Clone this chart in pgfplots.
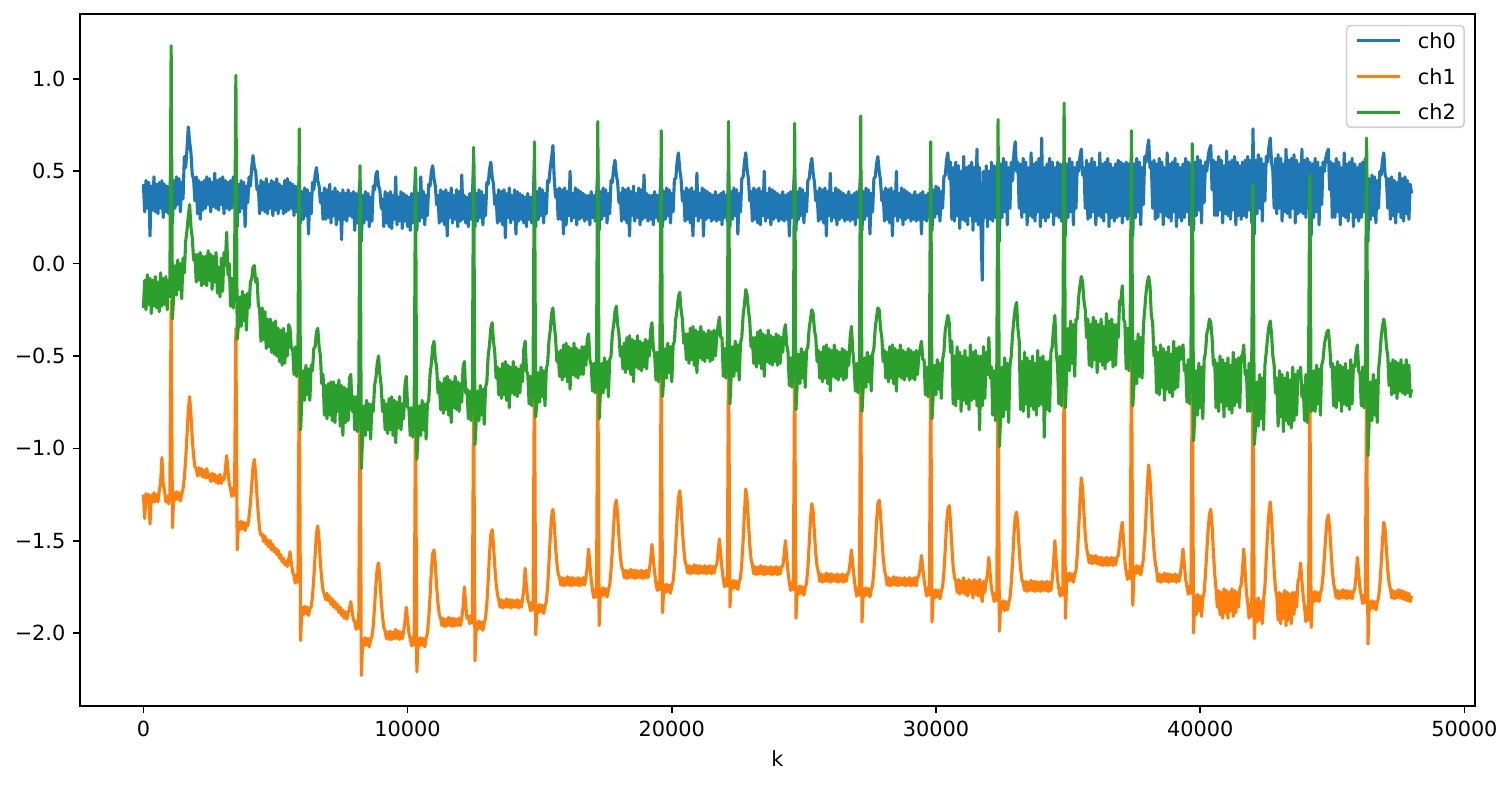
\documentclass[border=0pt]{standalone}
\usepackage{fontspec}
\setmainfont{DejaVu Sans}
\usepackage{pgfplots}
\usepackage{pgfplotstable}
\pgfplotsset{compat=1.18}
\definecolor{c0}{HTML}{1F77B4}
\definecolor{c1}{HTML}{FF7F0E}
\definecolor{c2}{HTML}{2CA02C}
% k = sample index; a = ch0, b = ch1, c = ch2
\pgfplotstableread{
k a b c
0 0.43 -1.25 -0.24
50 0.28 -1.38 -0.09
100 0.45 -1.245 -0.25
150 0.30 -1.285 -0.06
200 0.44 -1.25 -0.22
250 0.15 -1.41 -0.08
300 0.42 -1.255 -0.27
350 0.29 -1.29 -0.09
400 0.47 -1.24 -0.23
450 0.28 -1.29 -0.07
500 0.43 -1.25 -0.24
550 0.27 -1.29 -0.10
600 0.44 -1.23 -0.26
650 0.30 -1.19 -0.05
700 0.45 -1.05 -0.23
750 0.25 -1.19 -0.08
800 0.43 -1.23 -0.22
850 0.28 -1.29 -0.07
900 0.42 -1.26 -0.25
950 0.27 -1.30 -0.09
1000 0.38 -1.27 -0.18
1050 0.55 -0.20 1.18
1100 0.22 -1.43 -0.30
1150 0.45 -1.24 -0.16
1200 0.30 -1.28 -0.01
1250 0.47 -1.235 -0.17
1300 0.32 -1.275 0.02
1350 0.46 -1.24 -0.14
1400 0.28 -1.285 0.00
1450 0.44 -1.245 -0.19
1500 0.35 -1.22 0.03
1550 0.58 -1.16 -0.05
1600 0.52 -1.06 0.12
1650 0.62 -0.93 0.18
1700 0.74 -0.79 0.26
1750 0.66 -0.72 0.32
1800 0.60 -0.82 0.20
1850 0.48 -0.95 0.14
1900 0.46 -1.04 0.02
1950 0.34 -1.10 0.05
2000 0.47 -1.11 -0.10
2050 0.27 -1.15 0.05
2100 0.45 -1.105 -0.09
2150 0.24 -1.145 0.06
2200 0.44 -1.11 -0.12
2250 0.29 -1.155 0.04
2300 0.45 -1.12 -0.11
2350 0.30 -1.16 0.04
2400 0.47 -1.11 -0.12
2450 0.32 -1.16 0.07
2500 0.46 -1.14 -0.09
2550 0.28 -1.18 0.05
2600 0.44 -1.135 -0.14
2650 0.31 -1.175 0.04
2700 0.49 -1.14 -0.10
2750 0.30 -1.185 0.06
2800 0.45 -1.15 -0.16
2850 0.29 -1.19 -0.02
2900 0.46 -1.14 -0.18
2950 0.32 -1.19 0.03
3000 0.47 -1.16 -0.15
3050 0.27 -1.17 0.06
3100 0.45 -1.12 -0.01
3150 0.30 -1.04 0.17
3200 0.44 -1.12 -0.06
3250 0.29 -1.19 0.00
3300 0.45 -1.22 -0.23
3350 0.30 -1.26 -0.08
3400 0.47 -1.215 -0.24
3450 0.32 -1.255 -0.05
3500 0.50 -0.35 1.02
3550 0.20 -1.55 -0.41
3600 0.43 -1.40 -0.33
3650 0.28 -1.44 -0.18
3700 0.45 -1.395 -0.34
3750 0.30 -1.435 -0.15
3800 0.44 -1.40 -0.31
3850 0.20 -1.445 -0.17
3900 0.42 -1.405 -0.36
3950 0.33 -1.42 -0.16
4000 0.47 -1.37 -0.24
4050 0.42 -1.30 -0.10
4100 0.52 -1.20 -0.08
4150 0.585 -1.10 -0.02
4200 0.52 -1.06 -0.01
4250 0.50 -1.14 -0.10
4300 0.40 -1.26 -0.08
4350 0.42 -1.36 -0.22
4400 0.27 -1.44 -0.25
4450 0.45 -1.47 -0.42
4500 0.29 -1.465 -0.24
4550 0.44 -1.505 -0.41
4600 0.28 -1.475 -0.26
4650 0.46 -1.52 -0.46
4700 0.27 -1.495 -0.30
4750 0.43 -1.535 -0.45
4800 0.30 -1.50 -0.30
4850 0.45 -1.55 -0.48
4900 0.26 -1.52 -0.32
4950 0.44 -1.56 -0.49
5000 0.29 -1.54 -0.31
5050 0.46 -1.575 -0.50
5100 0.27 -1.55 -0.35
5150 0.43 -1.595 -0.53
5200 0.30 -1.575 -0.36
5250 0.42 -1.615 -0.55
5300 0.27 -1.595 -0.35
5350 0.45 -1.63 -0.54
5400 0.28 -1.61 -0.38
5450 0.46 -1.64 -0.50
5500 0.29 -1.60 -0.33
5550 0.44 -1.56 -0.35
5600 0.30 -1.62 -0.46
5650 0.43 -1.67 -0.46
5700 0.26 -1.69 -0.60
5750 0.42 -1.73 -0.45
5800 0.28 -1.685 -0.61
5850 0.40 -1.725 -0.48
5900 0.45 -0.55 0.73
5950 0.22 -2.04 -0.90
6000 0.39 -1.86 -0.73
6050 0.24 -1.90 -0.58
6100 0.41 -1.855 -0.74
6150 0.26 -1.895 -0.55
6200 0.40 -1.86 -0.71
6250 0.16 -1.905 -0.57
6300 0.38 -1.865 -0.74
6350 0.27 -1.86 -0.55
6400 0.44 -1.80 -0.58
6450 0.40 -1.70 -0.46
6500 0.48 -1.58 -0.45
6550 0.52 -1.46 -0.37
6600 0.45 -1.42 -0.35
6650 0.42 -1.50 -0.45
6700 0.33 -1.62 -0.50
6750 0.38 -1.71 -0.65
6800 0.24 -1.77 -0.60
6850 0.41 -1.79 -0.82
6900 0.24 -1.82 -0.66
6950 0.40 -1.785 -0.84
7000 0.25 -1.825 -0.65
7050 0.43 -1.80 -0.82
7100 0.22 -1.845 -0.64
7150 0.39 -1.815 -0.85
7200 0.26 -1.86 -0.64
7250 0.41 -1.83 -0.86
7300 0.21 -1.87 -0.66
7350 0.39 -1.845 -0.80
7400 0.24 -1.89 -0.63
7450 0.38 -1.86 -0.88
7500 0.13 -1.905 -0.66
7550 0.40 -1.875 -0.93
7600 0.24 -1.92 -0.67
7650 0.38 -1.885 -0.86
7700 0.23 -1.925 -0.68
7750 0.40 -1.89 -0.85
7800 0.26 -1.87 -0.62
7850 0.38 -1.83 -0.60
7900 0.25 -1.88 -0.80
7950 0.39 -1.93 -0.72
8000 0.18 -1.94 -0.90
8050 0.38 -1.98 -0.72
8100 0.22 -1.935 -0.91
8150 0.36 -1.975 -0.74
8200 0.45 -0.70 0.53
8250 0.12 -2.23 -1.11
8300 0.37 -2.03 -0.92
8350 0.22 -2.07 -0.77
8400 0.39 -2.025 -0.93
8450 0.24 -2.065 -0.74
8500 0.38 -2.03 -0.90
8550 0.20 -2.075 -0.76
8600 0.36 -2.035 -0.95
8650 0.23 -2.02 -0.76
8700 0.42 -1.96 -0.80
8750 0.40 -1.86 -0.66
8800 0.48 -1.74 -0.62
8850 0.50 -1.65 -0.54
8900 0.42 -1.62 -0.50
8950 0.40 -1.70 -0.60
9000 0.30 -1.82 -0.66
9050 0.35 -1.91 -0.80
9100 0.20 -1.97 -0.74
9150 0.39 -1.99 -0.90
9200 0.22 -2.03 -0.76
9250 0.38 -1.995 -0.92
9300 0.20 -2.035 -0.73
9350 0.39 -1.99 -0.90
9400 0.19 -2.035 -0.72
9450 0.37 -1.995 -0.93
9500 0.24 -2.03 -0.74
9550 0.47 -1.98 -0.97
9600 0.21 -2.03 -0.75
9650 0.36 -1.99 -0.89
9700 0.23 -2.035 -0.72
9750 0.39 -1.995 -0.90
9800 0.19 -2.03 -0.76
9850 0.38 -1.99 -0.84
9900 0.23 -1.94 -0.66
9950 0.37 -1.86 -0.61
10000 0.20 -1.93 -0.78
10050 0.36 -2.00 -0.78
10100 0.18 -2.03 -0.93
10150 0.38 -2.07 -0.78
10200 0.22 -2.025 -0.94
10250 0.35 -2.065 -0.77
10300 0.50 -0.75 0.52
10350 0.18 -2.21 -1.06
10400 0.38 -2.03 -0.92
10450 0.23 -2.07 -0.77
10500 0.47 -2.025 -0.93
10550 0.25 -2.065 -0.74
10600 0.39 -2.03 -0.90
10650 0.21 -2.075 -0.76
10700 0.37 -2.03 -0.95
10750 0.26 -2.00 -0.76
10800 0.43 -1.92 -0.74
10850 0.42 -1.80 -0.60
10900 0.50 -1.66 -0.54
10950 0.53 -1.57 -0.45
11000 0.46 -1.55 -0.42
11050 0.42 -1.63 -0.52
11100 0.32 -1.75 -0.56
11150 0.37 -1.84 -0.70
11200 0.22 -1.90 -0.64
11250 0.40 -1.92 -0.79
11300 0.23 -1.96 -0.65
11350 0.39 -1.92 -0.81
11400 0.21 -1.965 -0.62
11450 0.40 -1.925 -0.79
11500 0.15 -1.96 -0.61
11550 0.38 -1.915 -0.82
11600 0.25 -1.96 -0.63
11650 0.41 -1.92 -0.86
11700 0.22 -1.965 -0.64
11750 0.37 -1.92 -0.78
11800 0.24 -1.96 -0.61
11850 0.40 -1.925 -0.79
11900 0.20 -1.96 -0.64
11950 0.39 -1.92 -0.80
12000 0.23 -1.96 -0.65
12050 0.48 -1.92 -0.75
12100 0.24 -1.86 -0.56
12150 0.37 -1.75 -0.53
12200 0.22 -1.85 -0.70
12250 0.36 -1.92 -0.68
12300 0.20 -1.91 -0.84
12350 0.38 -1.95 -0.69
12400 0.24 -1.905 -0.85
12450 0.36 -1.945 -0.68
12500 0.55 -0.65 0.63
12550 0.20 -2.15 -0.98
12600 0.38 -1.94 -0.84
12650 0.23 -1.98 -0.69
12700 0.40 -1.935 -0.85
12750 0.25 -1.975 -0.66
12800 0.39 -1.94 -0.82
12850 0.21 -1.985 -0.68
12900 0.37 -1.945 -0.87
12950 0.26 -1.92 -0.67
13000 0.44 -1.84 -0.64
13050 0.43 -1.72 -0.50
13100 0.51 -1.57 -0.44
13150 0.55 -1.47 -0.35
13200 0.47 -1.44 -0.32
13250 0.43 -1.52 -0.42
13300 0.32 -1.64 -0.48
13350 0.37 -1.73 -0.62
13400 0.22 -1.79 -0.56
13450 0.40 -1.82 -0.71
13500 0.23 -1.86 -0.57
13550 0.39 -1.82 -0.73
13600 0.21 -1.865 -0.54
13650 0.40 -1.825 -0.71
13700 0.14 -1.86 -0.53
13750 0.38 -1.815 -0.74
13800 0.25 -1.86 -0.55
13850 0.41 -1.82 -0.78
13900 0.22 -1.865 -0.56
13950 0.37 -1.82 -0.70
14000 0.24 -1.86 -0.53
14050 0.40 -1.825 -0.71
14100 0.16 -1.86 -0.56
14150 0.39 -1.82 -0.72
14200 0.23 -1.865 -0.57
14250 0.38 -1.825 -0.70
14300 0.24 -1.86 -0.55
14350 0.37 -1.82 -0.64
14400 0.22 -1.76 -0.46
14450 0.36 -1.65 -0.42
14500 0.20 -1.75 -0.58
14550 0.38 -1.82 -0.60
14600 0.24 -1.84 -0.76
14650 0.36 -1.88 -0.61
14700 0.22 -1.835 -0.77
14750 0.35 -1.875 -0.60
14800 0.52 -0.55 0.66
14850 0.20 -2.01 -0.83
14900 0.39 -1.85 -0.74
14950 0.24 -1.89 -0.59
15000 0.41 -1.845 -0.75
15050 0.26 -1.885 -0.56
15100 0.40 -1.85 -0.72
15150 0.22 -1.895 -0.58
15200 0.38 -1.855 -0.77
15250 0.27 -1.83 -0.57
15300 0.45 -1.75 -0.54
15350 0.44 -1.62 -0.42
15400 0.52 -1.48 -0.36
15450 0.57 -1.37 -0.27
15500 0.64 -1.33 -0.24
15550 0.46 -1.41 -0.33
15600 0.36 -1.53 -0.40
15650 0.40 -1.62 -0.53
15700 0.24 -1.68 -0.48
15750 0.41 -1.70 -0.61
15800 0.24 -1.74 -0.47
15850 0.40 -1.70 -0.63
15900 0.16 -1.745 -0.44
15950 0.41 -1.705 -0.61
16000 0.21 -1.74 -0.43
16050 0.39 -1.695 -0.64
16100 0.26 -1.74 -0.45
16150 0.50 -1.70 -0.68
16200 0.23 -1.745 -0.46
16250 0.38 -1.70 -0.60
16300 0.25 -1.74 -0.43
16350 0.41 -1.705 -0.61
16400 0.21 -1.74 -0.46
16450 0.40 -1.70 -0.62
16500 0.24 -1.745 -0.47
16550 0.39 -1.705 -0.60
16600 0.25 -1.74 -0.45
16650 0.38 -1.70 -0.60
16700 0.23 -1.74 -0.45
16750 0.37 -1.70 -0.55
16800 0.24 -1.64 -0.41
16850 0.37 -1.545 -0.38
16900 0.21 -1.63 -0.52
16950 0.39 -1.71 -0.55
17000 0.25 -1.77 -0.69
17050 0.37 -1.81 -0.54
17100 0.23 -1.765 -0.70
17150 0.36 -1.805 -0.53
17200 0.50 -0.50 0.77
17250 0.18 -1.96 -0.84
17300 0.39 -1.76 -0.69
17350 0.24 -1.80 -0.54
17400 0.41 -1.755 -0.70
17450 0.26 -1.795 -0.51
17500 0.40 -1.76 -0.67
17550 0.22 -1.805 -0.53
17600 0.38 -1.765 -0.72
17650 0.27 -1.74 -0.52
17700 0.45 -1.66 -0.50
17750 0.44 -1.55 -0.38
17800 0.52 -1.42 -0.33
17850 0.56 -1.31 -0.26
17900 0.48 -1.28 -0.23
17950 0.44 -1.36 -0.33
18000 0.33 -1.48 -0.38
18050 0.38 -1.58 -0.50
18100 0.23 -1.64 -0.45
18150 0.41 -1.66 -0.57
18200 0.24 -1.70 -0.43
18250 0.40 -1.66 -0.59
18300 0.22 -1.705 -0.40
18350 0.41 -1.665 -0.57
18400 0.15 -1.70 -0.39
18450 0.39 -1.655 -0.60
18500 0.26 -1.70 -0.41
18550 0.42 -1.66 -0.64
18600 0.23 -1.705 -0.42
18650 0.38 -1.66 -0.56
18700 0.25 -1.70 -0.39
18750 0.41 -1.665 -0.57
18800 0.21 -1.70 -0.42
18850 0.40 -1.66 -0.58
18900 0.24 -1.705 -0.43
18950 0.48 -1.665 -0.56
19000 0.25 -1.70 -0.41
19050 0.38 -1.66 -0.57
19100 0.23 -1.70 -0.42
19150 0.37 -1.66 -0.50
19200 0.24 -1.60 -0.36
19250 0.37 -1.52 -0.32
19300 0.21 -1.60 -0.46
19350 0.39 -1.67 -0.49
19400 0.25 -1.73 -0.63
19450 0.37 -1.77 -0.48
19500 0.23 -1.725 -0.64
19550 0.36 -1.765 -0.47
19600 0.52 -0.45 0.72
19650 0.20 -1.89 -0.72
19700 0.39 -1.74 -0.61
19750 0.24 -1.78 -0.46
19800 0.41 -1.735 -0.62
19850 0.26 -1.775 -0.43
19900 0.40 -1.74 -0.59
19950 0.22 -1.785 -0.45
20000 0.38 -1.745 -0.64
20050 0.28 -1.72 -0.44
20100 0.46 -1.64 -0.42
20150 0.46 -1.52 -0.30
20200 0.55 -1.38 -0.25
20250 0.60 -1.27 -0.18
20300 0.51 -1.23 -0.155
20350 0.46 -1.31 -0.25
20400 0.34 -1.44 -0.30
20450 0.39 -1.54 -0.43
20500 0.23 -1.61 -0.38
20550 0.41 -1.635 -0.52
20600 0.24 -1.675 -0.38
20650 0.40 -1.635 -0.54
20700 0.22 -1.68 -0.35
20750 0.41 -1.64 -0.52
20800 0.15 -1.675 -0.34
20850 0.39 -1.63 -0.55
20900 0.26 -1.675 -0.36
20950 0.49 -1.635 -0.59
21000 0.23 -1.68 -0.37
21050 0.38 -1.635 -0.51
21100 0.25 -1.675 -0.34
21150 0.41 -1.64 -0.52
21200 0.15 -1.675 -0.37
21250 0.40 -1.635 -0.53
21300 0.24 -1.68 -0.38
21350 0.39 -1.64 -0.51
21400 0.25 -1.675 -0.36
21450 0.38 -1.635 -0.53
21500 0.23 -1.68 -0.37
21550 0.37 -1.64 -0.52
21600 0.24 -1.675 -0.36
21650 0.39 -1.64 -0.50
21700 0.23 -1.63 -0.40
21750 0.37 -1.57 -0.34
21800 0.24 -1.49 -0.29
21850 0.38 -1.57 -0.40
21900 0.21 -1.65 -0.40
21950 0.39 -1.71 -0.61
22000 0.25 -1.75 -0.46
22050 0.37 -1.705 -0.62
22100 0.23 -1.745 -0.45
22150 0.50 -0.45 0.77
22200 0.20 -1.86 -0.76
22250 0.39 -1.72 -0.60
22300 0.24 -1.76 -0.45
22350 0.41 -1.715 -0.61
22400 0.26 -1.755 -0.42
22450 0.40 -1.72 -0.58
22500 0.16 -1.765 -0.44
22550 0.38 -1.725 -0.63
22600 0.28 -1.70 -0.43
22650 0.46 -1.62 -0.40
22700 0.47 -1.50 -0.28
22750 0.55 -1.35 -0.22
22800 0.60 -1.22 -0.14
22850 0.51 -1.28 -0.17
22900 0.46 -1.40 -0.25
22950 0.34 -1.52 -0.31
23000 0.39 -1.60 -0.45
23050 0.23 -1.63 -0.40
23100 0.41 -1.68 -0.54
23150 0.24 -1.64 -0.40
23200 0.40 -1.685 -0.56
23250 0.22 -1.645 -0.37
23300 0.41 -1.68 -0.54
23350 0.21 -1.635 -0.36
23400 0.39 -1.68 -0.57
23450 0.26 -1.64 -0.38
23500 0.50 -1.685 -0.61
23550 0.23 -1.64 -0.39
23600 0.38 -1.68 -0.53
23650 0.25 -1.645 -0.36
23700 0.41 -1.68 -0.54
23750 0.21 -1.64 -0.39
23800 0.40 -1.685 -0.55
23850 0.24 -1.645 -0.40
23900 0.39 -1.68 -0.53
23950 0.25 -1.64 -0.38
24000 0.38 -1.685 -0.55
24050 0.23 -1.645 -0.39
24100 0.37 -1.68 -0.54
24150 0.24 -1.64 -0.40
24200 0.39 -1.64 -0.48
24250 0.23 -1.58 -0.37
24300 0.37 -1.50 -0.33
24350 0.24 -1.59 -0.44
24400 0.38 -1.67 -0.48
24450 0.15 -1.73 -0.66
24500 0.39 -1.77 -0.51
24550 0.25 -1.725 -0.67
24600 0.37 -1.765 -0.50
24650 0.52 -0.50 0.76
24700 0.18 -1.92 -0.79
24750 0.39 -1.75 -0.64
24800 0.24 -1.79 -0.49
24850 0.41 -1.745 -0.65
24900 0.26 -1.785 -0.46
24950 0.40 -1.75 -0.62
25000 0.22 -1.795 -0.48
25050 0.38 -1.755 -0.67
25100 0.28 -1.73 -0.47
25150 0.45 -1.65 -0.45
25200 0.46 -1.52 -0.35
25250 0.53 -1.38 -0.30
25300 0.57 -1.30 -0.25
25350 0.49 -1.34 -0.27
25400 0.44 -1.46 -0.36
25450 0.34 -1.57 -0.40
25500 0.39 -1.64 -0.53
25550 0.23 -1.67 -0.47
25600 0.41 -1.72 -0.62
25650 0.24 -1.68 -0.48
25700 0.40 -1.725 -0.64
25750 0.22 -1.685 -0.45
25800 0.41 -1.72 -0.62
25850 0.15 -1.675 -0.44
25900 0.39 -1.72 -0.65
25950 0.26 -1.68 -0.46
26000 0.49 -1.725 -0.69
26050 0.23 -1.68 -0.47
26100 0.38 -1.72 -0.61
26150 0.25 -1.685 -0.44
26200 0.41 -1.72 -0.62
26250 0.21 -1.68 -0.47
26300 0.40 -1.725 -0.63
26350 0.24 -1.685 -0.48
26400 0.39 -1.72 -0.61
26450 0.25 -1.68 -0.46
26500 0.38 -1.725 -0.63
26550 0.23 -1.685 -0.47
26600 0.37 -1.72 -0.62
26650 0.24 -1.68 -0.48
26700 0.39 -1.67 -0.55
26750 0.23 -1.62 -0.40
26800 0.37 -1.55 -0.34
26850 0.24 -1.63 -0.47
26900 0.38 -1.70 -0.55
26950 0.21 -1.76 -0.69
27000 0.39 -1.80 -0.54
27050 0.25 -1.755 -0.70
27100 0.37 -1.795 -0.53
27150 0.50 -0.50 0.80
27200 0.18 -1.94 -0.80
27250 0.39 -1.76 -0.66
27300 0.24 -1.80 -0.51
27350 0.41 -1.755 -0.67
27400 0.26 -1.795 -0.48
27450 0.40 -1.76 -0.64
27500 0.16 -1.805 -0.50
27550 0.38 -1.765 -0.69
27600 0.28 -1.74 -0.49
27650 0.46 -1.66 -0.46
27700 0.47 -1.54 -0.35
27750 0.54 -1.40 -0.29
27800 0.58 -1.30 -0.24
27850 0.50 -1.28 -0.25
27900 0.45 -1.36 -0.35
27950 0.34 -1.48 -0.40
28000 0.39 -1.59 -0.53
28050 0.23 -1.66 -0.47
28100 0.41 -1.69 -0.62
28150 0.24 -1.74 -0.48
28200 0.40 -1.70 -0.64
28250 0.22 -1.745 -0.45
28300 0.41 -1.705 -0.62
28350 0.15 -1.74 -0.44
28400 0.39 -1.695 -0.65
28450 0.26 -1.74 -0.46
28500 0.50 -1.70 -0.69
28550 0.23 -1.745 -0.47
28600 0.38 -1.70 -0.61
28650 0.25 -1.74 -0.44
28700 0.41 -1.705 -0.62
28750 0.21 -1.74 -0.47
28800 0.40 -1.70 -0.63
28850 0.24 -1.745 -0.48
28900 0.39 -1.705 -0.61
28950 0.25 -1.74 -0.46
29000 0.38 -1.70 -0.63
29050 0.23 -1.745 -0.47
29100 0.37 -1.705 -0.62
29150 0.24 -1.74 -0.48
29200 0.39 -1.70 -0.63
29250 0.23 -1.745 -0.47
29300 0.37 -1.70 -0.60
29350 0.24 -1.69 -0.50
29400 0.38 -1.65 -0.46
29450 0.16 -1.58 -0.42
29500 0.39 -1.65 -0.52
29550 0.24 -1.71 -0.52
29600 0.37 -1.76 -0.71
29650 0.23 -1.80 -0.56
29700 0.38 -1.755 -0.72
29750 0.25 -1.795 -0.55
29800 0.48 -0.55 0.66
29850 0.18 -1.94 -0.84
29900 0.40 -1.77 -0.70
29950 0.25 -1.81 -0.55
30000 0.42 -1.765 -0.71
30050 0.27 -1.805 -0.52
30100 0.41 -1.77 -0.68
30150 0.23 -1.815 -0.54
30200 0.39 -1.775 -0.73
30250 0.30 -1.75 -0.52
30300 0.47 -1.67 -0.48
30350 0.48 -1.55 -0.36
30400 0.56 -1.41 -0.32
30450 0.60 -1.33 -0.28
30500 0.46 -1.31 -0.32
30550 0.55 -1.40 -0.48
30600 0.24 -1.53 -0.42
30650 0.52 -1.64 -0.76
30700 0.23 -1.70 -0.50
30750 0.55 -1.72 -0.77
30800 0.26 -1.78 -0.45
30850 0.53 -1.71 -0.73
30900 0.19 -1.79 -0.48
30950 0.50 -1.72 -0.80
31000 0.24 -1.78 -0.50
31050 0.58 -1.70 -0.74
31100 0.23 -1.79 -0.47
31150 0.52 -1.72 -0.76
31200 0.21 -1.80 -0.51
31250 0.53 -1.71 -0.79
31300 0.26 -1.78 -0.44
31350 0.55 -1.72 -0.74
31400 0.18 -1.81 -0.48
31450 0.52 -1.71 -0.73
31500 0.23 -1.79 -0.47
31550 0.62 -1.72 -0.77
31600 0.21 -1.80 -0.50
31650 0.52 -1.71 -0.90
31700 0.23 -1.79 -0.50
31750 -0.09 -1.83 -0.77
31800 0.50 -1.72 -0.45
31850 0.25 -1.78 -0.73
31900 0.53 -1.72 -0.48
31950 0.20 -1.68 -0.60
32000 0.50 -1.59 -0.40
32050 0.24 -1.68 -0.62
32100 0.55 -1.76 -0.56
32150 0.23 -1.79 -0.82
32200 0.53 -1.83 -0.58
32250 0.25 -1.785 -0.85
32300 0.50 -1.825 -0.60
32350 0.55 -0.60 0.78
32400 0.12 -1.99 -0.99
32450 0.54 -1.83 -0.82
32500 0.25 -1.87 -0.56
32550 0.57 -1.825 -0.83
32600 0.28 -1.88 -0.51
32650 0.55 -1.83 -0.79
32700 0.21 -1.875 -0.54
32750 0.52 -1.835 -0.86
32800 0.30 -1.81 -0.55
32850 0.55 -1.73 -0.50
32900 0.45 -1.61 -0.38
32950 0.60 -1.47 -0.30
33000 0.66 -1.37 -0.24
33050 0.50 -1.345 -0.21
33100 0.55 -1.42 -0.35
33150 0.30 -1.55 -0.42
33200 0.54 -1.65 -0.79
33250 0.25 -1.71 -0.53
33300 0.57 -1.73 -0.80
33350 0.28 -1.77 -0.48
33400 0.55 -1.72 -0.76
33450 0.21 -1.775 -0.51
33500 0.52 -1.725 -0.83
33550 0.26 -1.77 -0.53
33600 0.60 -1.715 -0.77
33650 0.25 -1.77 -0.50
33700 0.54 -1.72 -0.79
33750 0.23 -1.775 -0.54
33800 0.55 -1.72 -0.82
33850 0.28 -1.77 -0.47
33900 0.57 -1.725 -0.77
33950 0.20 -1.775 -0.51
34000 0.68 -1.72 -0.76
34050 0.25 -1.77 -0.50
34100 0.52 -1.725 -0.94
34150 0.23 -1.77 -0.53
34200 0.54 -1.72 -0.79
34250 0.25 -1.775 -0.53
34300 0.57 -1.725 -0.80
34350 0.28 -1.77 -0.48
34400 0.55 -1.71 -0.45
34450 0.21 -1.62 -0.35
34500 0.52 -1.50 -0.28
34550 0.26 -1.61 -0.48
34600 0.55 -1.71 -0.55
34650 0.25 -1.76 -0.76
34700 0.54 -1.80 -0.50
34750 0.23 -1.755 -0.77
34800 0.52 -1.795 -0.50
34850 0.55 -0.50 0.87
34900 0.15 -1.92 -0.78
34950 0.54 -1.68 -0.57
35000 0.25 -1.72 -0.35
35050 0.57 -1.675 -0.58
35100 0.28 -1.715 -0.31
35150 0.55 -1.68 -0.54
35200 0.21 -1.725 -0.33
35250 0.52 -1.685 -0.61
35300 0.30 -1.66 -0.30
35350 0.55 -1.57 -0.30
35400 0.50 -1.44 -0.18
35450 0.58 -1.29 -0.12
35500 0.62 -1.16 -0.07
35550 0.48 -1.22 -0.10
35600 0.52 -1.35 -0.20
35650 0.30 -1.47 -0.25
35700 0.56 -1.54 -0.40
35750 0.24 -1.58 -0.30
35800 0.54 -1.62 -0.55
35850 0.25 -1.58 -0.33
35900 0.57 -1.625 -0.56
35950 0.28 -1.585 -0.29
36000 0.55 -1.62 -0.52
36050 0.21 -1.58 -0.31
36100 0.52 -1.625 -0.59
36150 0.26 -1.59 -0.33
36200 0.60 -1.63 -0.53
36250 0.25 -1.59 -0.30
36300 0.54 -1.635 -0.55
36350 0.23 -1.595 -0.34
36400 0.55 -1.63 -0.57
36450 0.28 -1.59 -0.27
36500 0.57 -1.635 -0.53
36550 0.20 -1.595 -0.31
36600 0.54 -1.63 -0.52
36650 0.25 -1.59 -0.30
36700 0.52 -1.635 -0.56
36750 0.23 -1.595 -0.33
36800 0.54 -1.63 -0.55
36850 0.25 -1.59 -0.33
36900 0.56 -1.58 -0.40
36950 0.26 -1.51 -0.20
37000 0.55 -1.45 -0.20
37050 0.22 -1.40 -0.12
37100 0.54 -1.50 -0.30
37150 0.26 -1.61 -0.32
37200 0.55 -1.67 -0.57
37250 0.24 -1.71 -0.35
37300 0.54 -1.665 -0.58
37350 0.26 -1.705 -0.32
37400 0.60 -0.45 0.72
37450 0.15 -1.85 -0.77
37500 0.54 -1.64 -0.64
37550 0.25 -1.68 -0.42
37600 0.57 -1.635 -0.65
37650 0.28 -1.675 -0.38
37700 0.55 -1.64 -0.61
37750 0.21 -1.685 -0.40
37800 0.52 -1.645 -0.62
37850 0.32 -1.60 -0.34
37900 0.58 -1.50 -0.25
37950 0.55 -1.36 -0.16
38000 0.62 -1.20 -0.10
38050 0.67 -1.09 -0.07
38100 0.52 -1.16 -0.12
38150 0.55 -1.30 -0.28
38200 0.30 -1.44 -0.32
38250 0.56 -1.55 -0.50
38300 0.24 -1.62 -0.45
38350 0.54 -1.66 -0.70
38400 0.25 -1.72 -0.48
38450 0.57 -1.68 -0.71
38500 0.28 -1.725 -0.44
38550 0.55 -1.685 -0.67
38600 0.21 -1.72 -0.46
38650 0.52 -1.675 -0.74
38700 0.26 -1.72 -0.48
38750 0.60 -1.68 -0.68
38800 0.25 -1.725 -0.45
38850 0.54 -1.68 -0.70
38900 0.23 -1.72 -0.49
38950 0.55 -1.685 -0.72
39000 0.28 -1.72 -0.42
39050 0.57 -1.68 -0.68
39100 0.20 -1.725 -0.46
39150 0.54 -1.685 -0.67
39200 0.25 -1.72 -0.45
39250 0.52 -1.68 -0.52
39300 0.23 -1.62 -0.46
39350 0.54 -1.545 -0.44
39400 0.25 -1.63 -0.58
39450 0.57 -1.71 -0.55
39500 0.28 -1.75 -0.75
39550 0.55 -1.79 -0.52
39600 0.21 -1.745 -0.76
39650 0.52 -1.785 -0.50
39700 0.55 -0.50 0.65
39750 0.18 -2.00 -0.96
39800 0.55 -1.80 -0.81
39850 0.26 -1.90 -0.58
39900 0.58 -1.79 -0.82
39950 0.29 -1.88 -0.54
40000 0.56 -1.80 -0.78
40050 0.22 -1.91 -0.56
40100 0.53 -1.81 -0.84
40150 0.33 -1.78 -0.52
40200 0.55 -1.68 -0.48
40250 0.50 -1.56 -0.38
40300 0.58 -1.44 -0.35
40350 0.62 -1.36 -0.30
40400 0.64 -1.33 -0.32
40450 0.40 -1.42 -0.40
40500 0.56 -1.56 -0.55
40550 0.26 -1.68 -0.52
40600 0.55 -1.76 -0.78
40650 0.26 -1.86 -0.54
40700 0.58 -1.77 -0.80
40750 0.29 -1.90 -0.50
40800 0.56 -1.78 -0.75
40850 0.22 -1.92 -0.52
40900 0.53 -1.76 -0.83
40950 0.27 -1.89 -0.54
41000 0.61 -1.77 -0.77
41050 0.26 -1.92 -0.51
41100 0.55 -1.78 -0.79
41150 0.24 -1.88 -0.55
41200 0.56 -1.76 -0.81
41250 0.29 -1.91 -0.48
41300 0.58 -1.77 -0.77
41350 0.21 -1.89 -0.52
41400 0.55 -1.78 -0.75
41450 0.26 -1.86 -0.51
41500 0.53 -1.76 -0.78
41550 0.24 -1.74 -0.50
41600 0.55 -1.66 -0.50
41650 0.26 -1.545 -0.44
41700 0.56 -1.66 -0.60
41750 0.25 -1.78 -0.58
41800 0.58 -1.84 -0.80
41850 0.29 -1.92 -0.54
41900 0.56 -1.84 -0.80
41950 0.22 -1.91 -0.55
42000 0.73 -0.60 0.43
42050 0.16 -2.03 -0.98
42100 0.56 -1.82 -0.87
42150 0.27 -1.94 -0.64
42200 0.59 -1.81 -0.88
42250 0.30 -1.93 -0.60
42300 0.57 -1.83 -0.84
42350 0.23 -1.95 -0.62
42400 0.54 -1.82 -0.90
42450 0.34 -1.75 -0.55
42500 0.58 -1.60 -0.48
42550 0.55 -1.46 -0.40
42600 0.63 -1.35 -0.34
42650 0.68 -1.29 -0.31
42700 0.55 -1.38 -0.38
42750 0.50 -1.52 -0.50
42800 0.30 -1.66 -0.55
42850 0.57 -1.76 -0.70
42900 0.27 -1.80 -0.62
42950 0.59 -1.93 -0.88
43000 0.30 -1.78 -0.58
43050 0.57 -1.95 -0.83
43100 0.23 -1.79 -0.60
43150 0.54 -1.92 -0.91
43200 0.28 -1.77 -0.62
43250 0.62 -1.96 -0.85
43300 0.27 -1.78 -0.59
43350 0.56 -1.93 -0.87
43400 0.25 -1.79 -0.63
43450 0.57 -1.95 -0.89
43500 0.30 -1.78 -0.56
43550 0.59 -1.90 -0.85
43600 0.22 -1.78 -0.60
43650 0.56 -1.86 -0.82
43700 0.27 -1.72 -0.58
43750 0.54 -1.70 -0.62
43800 0.28 -1.62 -0.56
43850 0.62 -1.72 -0.72
43900 0.27 -1.80 -0.66
43950 0.56 -1.86 -0.85
44000 0.25 -1.94 -0.60
44050 0.57 -1.86 -0.86
44100 0.30 -1.93 -0.58
44150 0.55 -0.60 0.48
44200 0.15 -1.97 -0.80
44250 0.54 -1.78 -0.79
44300 0.25 -1.83 -0.58
44350 0.57 -1.775 -0.80
44400 0.28 -1.825 -0.55
44450 0.55 -1.78 -0.76
44500 0.21 -1.83 -0.57
44550 0.52 -1.785 -0.82
44600 0.32 -1.76 -0.55
44650 0.55 -1.69 -0.52
44700 0.50 -1.59 -0.44
44750 0.57 -1.48 -0.40
44800 0.60 -1.39 -0.37
44850 0.62 -1.36 -0.36
44900 0.40 -1.43 -0.44
44950 0.55 -1.55 -0.56
45000 0.25 -1.66 -0.54
45050 0.54 -1.73 -0.77
45100 0.25 -1.77 -0.56
45150 0.57 -1.81 -0.78
45200 0.28 -1.77 -0.53
45250 0.55 -1.815 -0.74
45300 0.21 -1.775 -0.55
45350 0.52 -1.81 -0.80
45400 0.26 -1.765 -0.56
45450 0.60 -1.81 -0.76
45500 0.25 -1.77 -0.54
45550 0.54 -1.815 -0.77
45600 0.23 -1.77 -0.58
45650 0.55 -1.81 -0.79
45700 0.28 -1.775 -0.52
45750 0.57 -1.815 -0.76
45800 0.20 -1.775 -0.55
45850 0.54 -1.76 -0.56
45900 0.25 -1.69 -0.48
45950 0.52 -1.59 -0.44
46000 0.23 -1.68 -0.58
46050 0.54 -1.76 -0.60
46100 0.25 -1.80 -0.77
46150 0.55 -1.84 -0.56
46200 0.28 -1.795 -0.78
46250 0.57 -1.835 -0.55
46300 0.50 -0.60 0.68
46350 0.12 -2.06 -1.04
46400 0.46 -1.83 -0.84
46450 0.24 -1.87 -0.64
46500 0.48 -1.825 -0.85
46550 0.26 -1.865 -0.60
46600 0.47 -1.83 -0.82
46650 0.22 -1.875 -0.63
46700 0.45 -1.835 -0.86
46750 0.30 -1.81 -0.58
46800 0.50 -1.74 -0.50
46850 0.48 -1.63 -0.40
46900 0.56 -1.50 -0.34
46950 0.60 -1.40 -0.30
47000 0.48 -1.44 -0.35
47050 0.46 -1.55 -0.45
47100 0.30 -1.66 -0.50
47150 0.46 -1.73 -0.66
47200 0.24 -1.76 -0.54
47250 0.47 -1.81 -0.71
47300 0.26 -1.77 -0.52
47350 0.45 -1.815 -0.70
47400 0.22 -1.775 -0.53
47450 0.44 -1.81 -0.73
47500 0.28 -1.765 -0.54
47550 0.49 -1.81 -0.69
47600 0.25 -1.77 -0.52
47650 0.46 -1.815 -0.70
47700 0.23 -1.775 -0.55
47750 0.47 -1.82 -0.71
47800 0.27 -1.78 -0.52
47850 0.45 -1.825 -0.70
47900 0.24 -1.785 -0.55
47950 0.43 -1.83 -0.72
47999 0.38 -1.80 -0.68
}\data
\begin{document}
\begin{tikzpicture}
\path[use as bounding box] (-38.4pt,-37.9pt) rectangle (687.4pt,338.9pt);
\begin{axis}[
  at={(0,0)}, anchor=south west,
  scale only axis, width=669.6pt, height=332.2pt,
  xmin=-2400, xmax=50399, ymin=-2.395, ymax=1.352,
  xtick={0,10000,20000,30000,40000,50000},
  xticklabels={0,10000,20000,30000,40000,50000},
  ytick={-2,-1.5,-1,-0.5,0,0.5,1},
  yticklabels={−2.0,−1.5,−1.0,−0.5,0.0,0.5,1.0},
  scaled x ticks=false, scaled y ticks=false,
  tick align=outside, tick pos=left,
  major tick length=3.5pt,
  every tick/.style={black, line width=0.8pt},
  axis line style={line width=0.8pt},
  xlabel={k},
  legend cell align=left,
  legend image code/.code={\draw[#1, line width=1.5pt] (0pt,3.6pt) -- (21pt,3.6pt);},
  legend style={at={(1,1)}, anchor=north east, xshift=-4.8pt, yshift=-5.2pt,
    draw=black!18, line width=0.8pt, rounded corners=2pt, fill=white, fill opacity=0.8, text opacity=1,
    row sep=9.8pt, column sep=7.7pt, inner xsep=4pt, inner ysep=3.5pt,
    nodes={inner sep=0pt, text height=7.4pt, text depth=0pt, anchor=base west}},
  every axis plot/.append style={line width=1.5pt, line join=round},
]
\addplot[c0] table[x=k, y=a] {\data};
\addlegendentry{ch0}
\addplot[c1] table[x=k, y=b] {\data};
\addlegendentry{ch1}
\addplot[c2] table[x=k, y=c] {\data};
\addlegendentry{ch2}
\end{axis}
\end{tikzpicture}
\end{document}
